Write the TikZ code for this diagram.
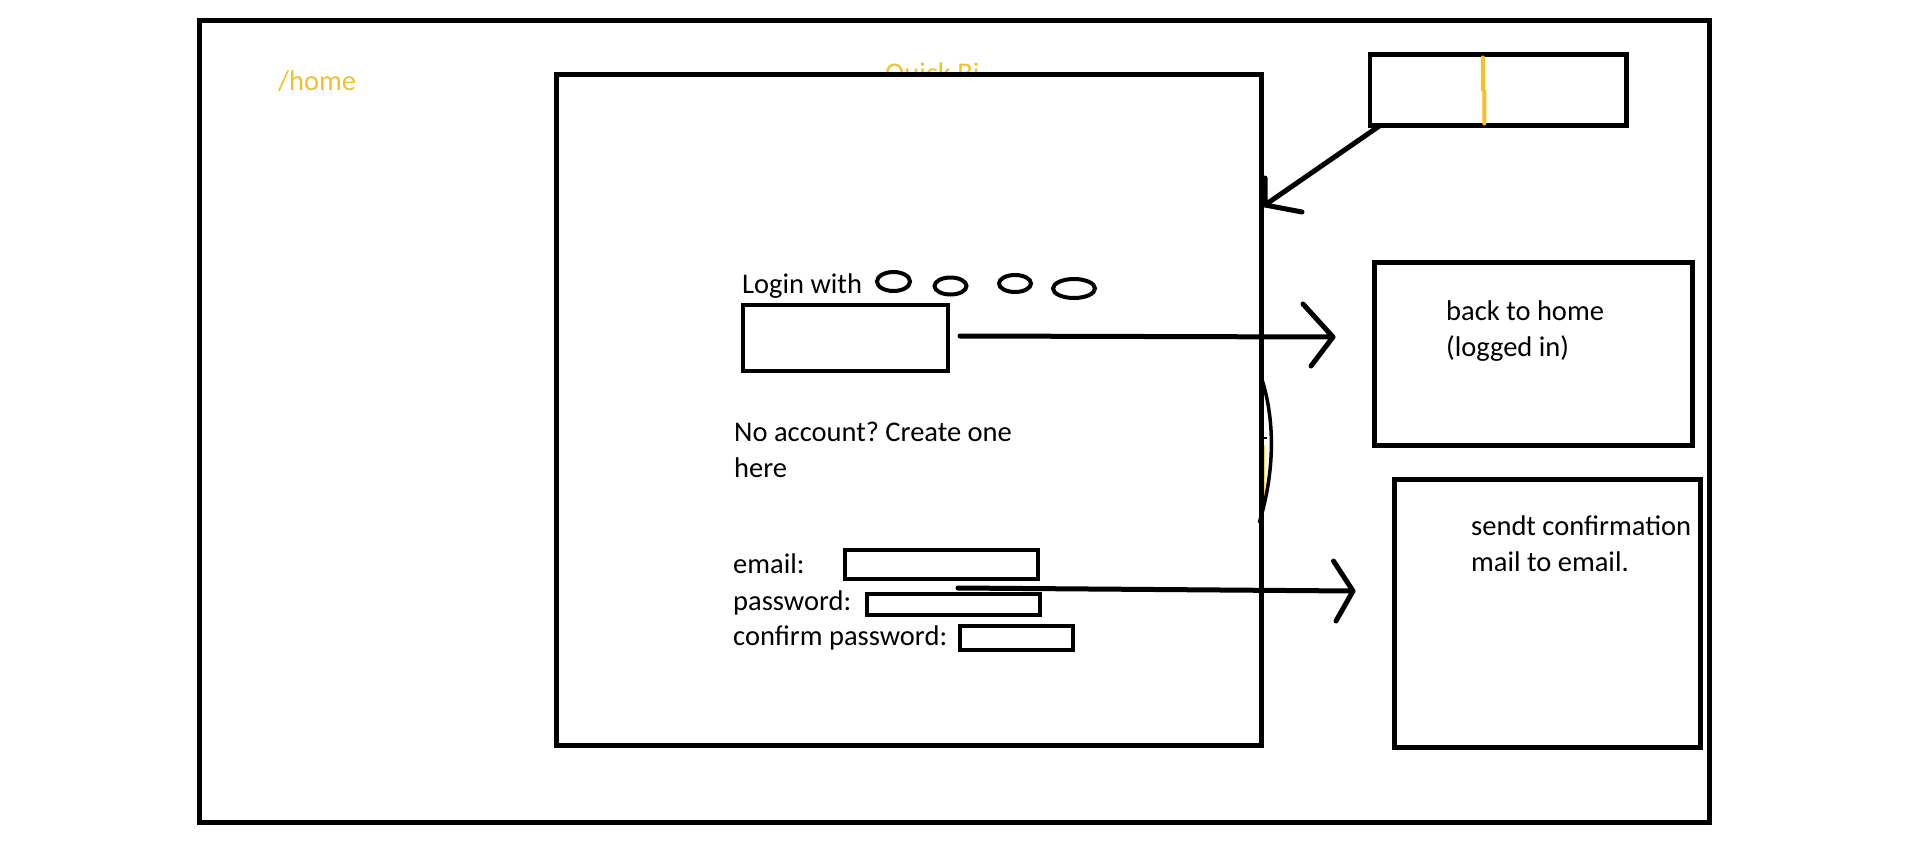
\documentclass[tikz,border=0pt]{standalone}
\usepackage{fontspec}
\setmainfont{Carlito}
\usetikzlibrary{shapes.geometric}
\definecolor{penyellow}{RGB}{242,194,40}
\frenchspacing
\begin{document}
\begin{tikzpicture}[x=1pt,y=-1pt,
  boxline/.style={draw=black, line width=5pt, rectangle, inner sep=0pt, outer sep=0pt},
  fieldbox/.style={draw=black, line width=4pt, rectangle, inner sep=0pt, outer sep=0pt},
  bubble/.style={draw=black, line width=4pt, ellipse, inner sep=0pt, outer sep=0pt},
  txt/.style={font=\fontsize{28.5}{36.5}\selectfont, inner sep=0pt, anchor=base west, text=black},
  yellowtxt/.style={txt, text=penyellow},
  pen/.style={draw=black, line width=5pt, line cap=round, line join=round},
]
\useasboundingbox (0,0) rectangle (1906,865);
\fill[white] (0,0) rectangle (1906,865);

% page frame and route label
\node[boxline, minimum width=1510pt, minimum height=802pt] (page) at (954.5,421.5) {};
\node[yellowtxt] (route) at (278,90.5) {/home};
\node[yellowtxt] (title) at (885,82.5) {Quick Bi};

% login panel (white fill hides the lower part of the title)
\node[boxline, fill=white, minimum width=704.8pt, minimum height=670.7pt] (main) at (909.1,409.9) {};

% search bar with cursor
\node[boxline, line width=4.5pt, minimum width=256.5pt, minimum height=71pt] (search) at (1498.3,90) {};
\draw[penyellow, line width=4pt, line cap=round] (search.north) ++(-15.5,3) -- ++(0,32) -- ++(1.5,2) -- ++(0,32);

% result screens
\node[boxline, minimum width=318pt, minimum height=183pt] (home) at (1533.5,353.5) {};
\node[txt] (homeA) at (1446,320) {back to home};
\node[txt] (homeB) at (1446,356) {(logged in)};

\node[boxline, minimum width=306pt, minimum height=268pt] (mail) at (1547.5,613) {};
\node[txt] (mailA) at (1471,535.5) {sendt confirmation};
\node[txt] (mailB) at (1471,571) {mail to email.};

% login with providers
\node[txt] (loginlbl) at (742,293) {Login with};
\node[bubble, minimum width=33pt, minimum height=19pt] (p1) at (893.5,281.5) {};
\node[bubble, minimum width=32pt, minimum height=17pt] (p2) at (950.5,286) {};
\node[bubble, minimum width=32pt, minimum height=17pt] (p3) at (1015,283.5) {};
\node[bubble, minimum width=42pt, minimum height=19pt] (p4) at (1074,288.5) {};
\node[fieldbox, minimum width=205pt, minimum height=66pt] (login) at (845.5,338) {};

% sign-up form
\node[txt] (noacc) at (734,441) {No account? Create one};
\node[txt] (here) at (734,477) {here};
\node[txt] (emaillbl) at (733,573) {email:};
\node[txt] (pwlbl) at (733,610) {password:};
\node[txt] (cpwlbl) at (733,645) {confirm password:};
\node[fieldbox, minimum width=193pt, minimum height=29pt] (email) at (941.5,564.5) {};
\node[fieldbox, minimum width=173pt, minimum height=21pt] (pw) at (953.5,604.5) {};
\node[fieldbox, minimum width=113pt, minimum height=24pt] (cpw) at (1016.5,638) {};

% bulge on the panel's right edge
\draw[penyellow!80!white, line width=1.5pt] (1264.5,445) -- (1264.5,495);
\draw[black, line width=3.5pt, line cap=round] (1261.5,378) .. controls (1275,420) and (1275,470) .. (1259.5,522);
\draw[black, line width=2pt] (1260,438) -- (1267,438);

% connectors
\coordinate (tipS) at (1265,205);
\draw[pen] ([xshift=10pt]search.south west) -- (tipS) -- ++(0,-27);
\draw[pen] (tipS) -- ++(37,7);

\coordinate (tipH) at (1333,337);
\draw[pen] ([xshift=12pt,yshift=2pt]login.east) -- (tipH) -- ++(-30,-33);
\draw[pen] (tipH) -- ++(-22,29);

\coordinate (startM) at (958,588);
\coordinate (tipM) at (1353,591);
\draw[pen] (startM) -- (tipM) -- ++(-19.5,-30);
\draw[pen] (tipM) -- ++(-17,30);
\end{tikzpicture}
\end{document}
